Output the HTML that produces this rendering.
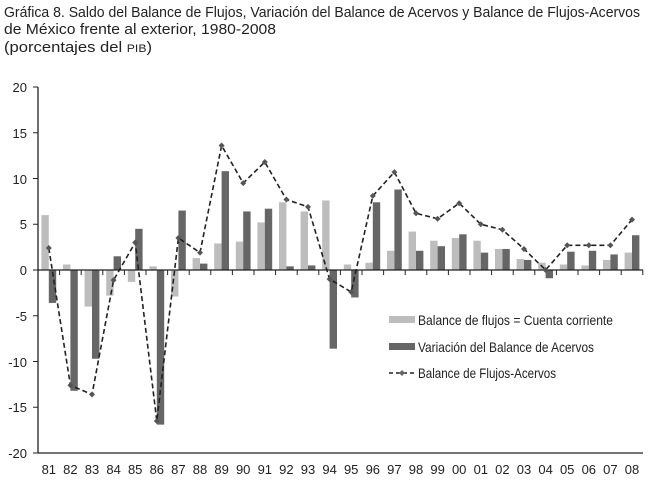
<!DOCTYPE html>
<html><head><meta charset="utf-8"><style>
body{margin:0;background:#fff;width:648px;height:484px;overflow:hidden}
svg{font-family:"Liberation Sans",sans-serif;fill:#222}
</style></head><body>
<svg id="s" width="648" height="484" xmlns="http://www.w3.org/2000/svg">
<text x="4" y="17" font-size="15" textLength="636" lengthAdjust="spacingAndGlyphs">Gráfica 8. Saldo del Balance de Flujos, Variación del Balance de Acervos y Balance de Flujos-Acervos</text>
<text x="4" y="34" font-size="15" textLength="272" lengthAdjust="spacingAndGlyphs">de México frente al exterior, 1980-2008</text>
<text x="4" y="52" font-size="15" textLength="148" lengthAdjust="spacingAndGlyphs">(porcentajes del <tspan font-size="11">PIB</tspan>)</text>
<g font-size="13" text-anchor="end">
<text x="27" y="92">20</text><text x="27" y="138">15</text><text x="27" y="184">10</text><text x="27" y="229">5</text><text x="27" y="275">0</text><text x="27" y="321">-5</text><text x="27" y="367">-10</text><text x="27" y="412">-15</text><text x="27" y="458">-20</text>
</g>
<g font-size="13" text-anchor="middle" id="xl">
<text x="48.8" y="474">81</text><text x="70.4" y="474">82</text><text x="92" y="474">83</text><text x="113.6" y="474">84</text><text x="135.2" y="474">85</text><text x="156.8" y="474">86</text><text x="178.4" y="474">87</text><text x="200" y="474">88</text><text x="221.6" y="474">89</text><text x="243.2" y="474">90</text><text x="264.8" y="474">91</text><text x="286.4" y="474">92</text><text x="308" y="474">93</text><text x="329.6" y="474">94</text><text x="351.2" y="474">95</text><text x="372.8" y="474">96</text><text x="394.4" y="474">97</text><text x="416" y="474">98</text><text x="437.6" y="474">99</text><text x="459.2" y="474">00</text><text x="480.8" y="474">01</text><text x="502.4" y="474">02</text><text x="524" y="474">03</text><text x="545.6" y="474">04</text><text x="567.2" y="474">05</text><text x="588.8" y="474">06</text><text x="610.4" y="474">07</text><text x="632" y="474">08</text>
</g>
<g font-size="14">
<rect x="389" y="316" width="26" height="7" fill="#bdbdbd"/>
<text x="418" y="325" textLength="195" lengthAdjust="spacingAndGlyphs">Balance de flujos = Cuenta corriente</text>
<rect x="389" y="343" width="26" height="7" fill="#666"/>
<text x="418" y="352" textLength="176" lengthAdjust="spacingAndGlyphs">Variación del Balance de Acervos</text>
<line x1="389" y1="373" x2="415" y2="373" stroke="#222" stroke-width="1.5" stroke-dasharray="4,3"/>
<path d="M402 370 L405 373 L402 376 L399 373Z" fill="#666"/>
<text x="418" y="378" textLength="138" lengthAdjust="spacingAndGlyphs">Balance de Flujos-Acervos</text>
</g>
<g id="g"></g>
</svg>
<script>
var L=[6,0.6,-4,-2.8,-1.3,0.4,-2.9,1.3,2.9,3.1,5.2,7.4,6.4,7.6,0.6,0.8,2.1,4.2,3.2,3.5,3.2,2.3,1.2,0.8,0.6,0.5,1.1,1.9];
var D=[-3.6,-13.2,-9.7,1.5,4.5,-16.9,6.5,0.7,10.8,6.4,6.7,0.4,0.5,-8.6,-3,7.4,8.8,2.1,2.6,3.9,1.9,2.3,1.1,-0.9,2,2.1,1.7,3.8];
var N=[2.4,-12.6,-13.6,-1.1,3,-16.5,3.5,1.9,13.6,9.5,11.8,7.7,6.9,-1,-2.4,8.1,10.7,6.2,5.6,7.3,5,4.4,2.3,0,2.7,2.7,2.7,5.5];
var h='',z=270,k=9.15,w=21.6,x0=38,pts=[];
function bar(x,v,c){var y=v>=0?z-v*k:z;h+='<rect x="'+x+'" y="'+y+'" width="7.4" height="'+Math.abs(v*k)+'" fill="'+c+'"/>';}
for(var i=0;i<28;i++){var cx=x0+w*i;bar(cx+3.4,L[i],'#bdbdbd');bar(cx+10.8,D[i],'#666');pts.push([cx+10.8,z-N[i]*k]);}
h+='<line x1="38" y1="87" x2="38" y2="453" stroke="#222" stroke-width="1.3"/>';
h+='<line x1="38" y1="453" x2="643" y2="453" stroke="#222" stroke-width="1.3"/>';
h+='<line x1="38" y1="270" x2="643" y2="270" stroke="#222" stroke-width="1.3"/>';
for(var j=0;j<9;j++)h+='<line x1="33" x2="38" y1="'+(87+j*45.75)+'" y2="'+(87+j*45.75)+'" stroke="#222"/>';
for(var i=1;i<=28;i++)h+='<line x1="'+(x0+w*i)+'" x2="'+(x0+w*i)+'" y1="270" y2="275" stroke="#222"/>';
h+='<polyline fill="none" stroke="#222" stroke-width="1.6" stroke-dasharray="5,3" points="'+pts.map(function(p){return p.join(',')}).join(' ')+'"/>';
pts.forEach(function(p){h+='<path d="M'+p[0]+' '+(p[1]-3)+' l3 3 l-3 3 l-3 -3Z" fill="#555"/>';});
document.getElementById('g').innerHTML=h;
</script>
</body></html>
